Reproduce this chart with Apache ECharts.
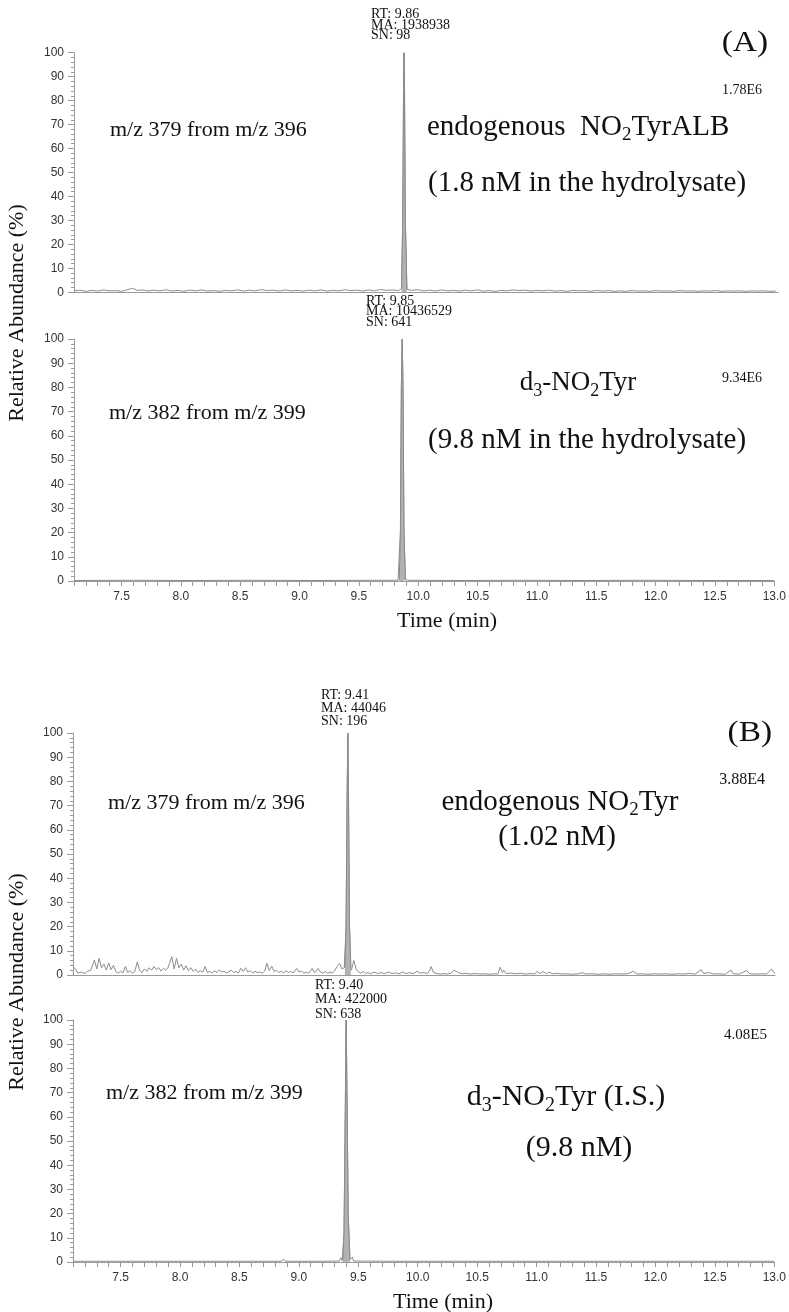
<!DOCTYPE html>
<html>
<head>
<meta charset="utf-8">
<script src="https://cdn.jsdelivr.net/npm/echarts@6.0.0/dist/echarts.min.js"></script>
<style>
html,body{margin:0;padding:0;background:#fff;}
#chart{width:789px;height:1312px;}
</style>
</head>
<body>
<div id="chart"></div>
<script>
// ---------- DATA ----------
const xTickLabels = ['7.5','8.0','8.5','9.0','9.5','10.0','10.5','11.0','11.5','12.0','12.5','13.0'];
const yTickLabels = ['0','10','20','30','40','50','60','70','80','90','100'];

// Panel A, upper trace: m/z 379 from m/z 396 (baseline noise, % relative abundance)
const aTopNoise = [[7.10,0.6],[7.15,0.9],[7.20,0.4],[7.25,0.8],[7.30,0.5],[7.35,1.0],[7.40,0.6],[7.45,0.7],[7.50,0.4],[7.55,1.1],[7.59,1.7],[7.63,0.8],[7.68,1.0],[7.72,0.5],[7.77,0.9],[7.82,0.6],[7.87,1.1],[7.92,0.5],[7.97,0.8],[8.02,0.4],[8.07,0.9],[8.12,0.6],[8.17,1.0],[8.22,0.5],[8.27,0.7],[8.32,0.4],[8.37,0.8],[8.42,0.6],[8.47,1.0],[8.52,0.5],[8.57,0.9],[8.62,0.6],[8.67,1.1],[8.72,0.7],[8.77,0.9],[8.82,0.5],[8.87,1.0],[8.92,0.6],[8.97,0.8],[9.02,0.5],[9.07,0.9],[9.12,0.6],[9.17,1.0],[9.22,0.5],[9.27,0.8],[9.32,0.6],[9.37,1.1],[9.42,0.7],[9.47,0.9],[9.52,0.5],[9.57,1.0],[9.62,0.6],[9.67,1.2],[9.72,0.8],[9.77,1.0],[9.82,0.7],[9.93,0.8],[9.98,1.1],[10.03,0.6],[10.08,0.9],[10.13,0.5],[10.18,1.0],[10.23,0.6],[10.28,0.8],[10.33,0.5],[10.38,0.9],[10.43,0.6],[10.48,1.0],[10.53,0.5],[10.58,0.7],[10.63,0.4],[10.68,0.8],[10.73,0.6],[10.78,1.0],[10.83,0.7],[10.88,0.9],[10.93,0.5],[10.98,0.8],[11.03,0.6],[11.08,0.9],[11.13,0.5],[11.18,0.7],[11.23,0.4],[11.28,0.8],[11.33,0.6],[11.38,0.7],[11.43,0.4],[11.48,0.8],[11.53,0.5],[11.58,0.7],[11.63,0.4],[11.68,0.6],[11.73,0.4],[11.78,0.7],[11.83,0.5],[11.88,0.6],[11.93,0.4],[11.98,0.7],[12.03,0.5],[12.08,0.6],[12.13,0.4],[12.18,0.7],[12.23,0.5],[12.28,0.6],[12.33,0.4],[12.38,0.6],[12.43,0.5],[12.48,0.7],[12.53,0.4],[12.58,0.6],[12.63,0.5],[12.68,0.6],[12.73,0.4],[12.78,0.6],[12.83,0.5],[12.88,0.6],[12.93,0.4],[12.98,0.5]];
const aTopPeak = [[9.845,1.5],[9.855,30],[9.862,85],[9.866,100],[9.870,85],[9.877,30],[9.890,1.2]];

// Panel A, lower trace: m/z 382 from m/z 399
const aBotNoise = [[7.10,0.2],[7.60,0.3],[8.10,0.2],[8.60,0.3],[9.10,0.2],[9.60,0.3],[9.83,0.3],[9.92,0.3],[10.40,0.2],[10.90,0.3],[11.40,0.2],[11.90,0.3],[12.40,0.2],[13.00,0.2]];
const aBotPeak = [[9.840,0.5],[9.850,20],[9.858,80],[9.865,100],[9.872,80],[9.880,20],[9.892,0.5]];

// Panel B, upper trace: m/z 379 from m/z 396
const bTopNoise = [[7.10,3.4],[7.12,2.5],[7.14,0.8],[7.17,1.2],[7.20,0.6],[7.22,1.5],[7.25,2.0],[7.28,6.2],[7.30,2.5],[7.32,6.9],[7.34,3.0],[7.36,4.5],[7.38,2.0],[7.40,5.0],[7.42,2.2],[7.44,4.0],[7.46,1.5],[7.48,0.8],[7.50,1.5],[7.52,0.9],[7.54,3.5],[7.56,1.0],[7.58,1.8],[7.60,0.7],[7.62,1.5],[7.64,5.4],[7.66,1.8],[7.68,1.0],[7.70,2.5],[7.72,1.5],[7.74,3.0],[7.76,2.0],[7.78,3.5],[7.80,2.2],[7.82,3.0],[7.84,1.6],[7.86,2.8],[7.88,2.0],[7.90,3.2],[7.93,7.6],[7.95,2.5],[7.97,6.9],[7.99,3.0],[8.01,4.5],[8.03,2.0],[8.05,3.8],[8.07,1.8],[8.09,3.0],[8.11,1.5],[8.13,2.5],[8.15,1.0],[8.17,1.8],[8.19,1.2],[8.21,3.5],[8.23,1.0],[8.25,1.5],[8.27,0.8],[8.29,1.8],[8.31,1.0],[8.33,2.2],[8.35,1.2],[8.37,1.6],[8.39,0.8],[8.41,1.4],[8.43,2.0],[8.45,1.0],[8.47,1.5],[8.49,0.8],[8.51,2.8],[8.53,1.5],[8.55,3.0],[8.57,1.2],[8.59,1.8],[8.61,0.9],[8.63,1.5],[8.65,1.0],[8.67,1.2],[8.69,0.7],[8.71,1.5],[8.73,4.8],[8.75,1.8],[8.77,3.7],[8.79,1.5],[8.81,2.0],[8.83,1.0],[8.85,1.6],[8.87,0.8],[8.89,1.8],[8.91,1.0],[8.93,1.5],[8.95,0.8],[8.98,2.7],[9.00,1.2],[9.02,1.6],[9.04,0.8],[9.06,1.2],[9.08,0.7],[9.11,2.7],[9.13,1.0],[9.16,2.7],[9.18,1.2],[9.20,0.8],[9.22,1.5],[9.24,0.7],[9.26,1.2],[9.28,0.8],[9.30,1.8],[9.32,3.5],[9.34,4.8],[9.36,2.5],[9.38,3.0],[9.44,2.0],[9.46,6.0],[9.48,2.5],[9.50,1.2],[9.52,0.8],[9.54,1.5],[9.56,0.6],[9.58,1.0],[9.60,0.5],[9.63,1.2],[9.66,0.6],[9.69,1.0],[9.72,0.5],[9.75,1.3],[9.78,0.6],[9.81,0.9],[9.84,0.5],[9.87,1.2],[9.90,0.6],[9.93,1.0],[9.96,0.5],[9.99,1.5],[10.02,0.8],[10.05,1.0],[10.08,0.6],[10.10,2.0],[10.11,3.5],[10.13,1.0],[10.16,0.6],[10.19,0.4],[10.22,0.6],[10.25,0.4],[10.28,0.8],[10.30,2.0],[10.32,1.5],[10.34,1.0],[10.37,0.5],[10.40,0.7],[10.44,0.4],[10.48,0.6],[10.52,0.4],[10.56,0.5],[10.60,0.3],[10.64,0.5],[10.67,0.4],[10.69,3.2],[10.71,1.0],[10.72,2.0],[10.74,0.6],[10.78,0.8],[10.82,0.5],[10.86,0.7],[10.90,0.4],[10.94,0.6],[10.98,0.4],[11.00,1.5],[11.02,0.6],[11.05,1.4],[11.08,0.5],[11.10,1.2],[11.13,0.5],[11.17,0.7],[11.21,0.4],[11.25,0.5],[11.30,0.3],[11.35,0.5],[11.38,1.0],[11.41,0.4],[11.46,0.5],[11.51,0.3],[11.56,0.5],[11.61,0.3],[11.66,0.5],[11.71,0.4],[11.76,0.5],[11.81,1.5],[11.84,0.4],[11.88,0.5],[11.93,0.3],[11.98,0.5],[12.03,0.4],[12.08,0.5],[12.13,0.3],[12.18,0.5],[12.23,0.4],[12.28,0.6],[12.33,0.4],[12.38,2.2],[12.40,0.6],[12.45,1.0],[12.48,0.4],[12.53,0.5],[12.58,0.3],[12.63,2.0],[12.65,0.5],[12.70,0.4],[12.76,1.8],[12.79,0.5],[12.84,0.4],[12.89,0.5],[12.93,0.4],[12.97,2.5],[13.00,0.6]];
const bTopPeak = [[9.385,3.0],[9.395,20],[9.403,70],[9.410,100],[9.416,70],[9.424,20],[9.435,3.0]];

// Panel B, lower trace: m/z 382 from m/z 399
const bBotNoise = [[7.10,0.3],[7.60,0.3],[8.10,0.3],[8.60,0.3],[8.85,0.3],[8.87,1.0],[8.89,0.3],[9.20,0.3],[9.34,0.4],[9.355,1.8],[9.365,0.5],[9.44,0.5],[9.45,2.0],[9.46,0.4],[9.80,0.3],[10.30,0.3],[10.80,0.3],[11.30,0.3],[11.80,0.3],[12.30,0.3],[12.80,0.3],[13.00,0.3]];
const bBotPeak = [[9.370,1.0],[9.380,12],[9.390,60],[9.398,100],[9.405,70],[9.415,20],[9.430,1.0]];

// Annotations
const peakInfo = [
  'RT: 9.86\nMA: 1938938\nSN: 98',
  'RT: 9.85\nMA: 10436529\nSN: 641',
  'RT: 9.41\nMA: 44046\nSN: 196',
  'RT: 9.40\nMA: 422000\nSN: 638'
];
const nlLabels = ['1.78E6','9.34E6','3.88E4','4.08E5'];
const transitionLabels = ['m/z 379 from m/z 396','m/z 382 from m/z 399','m/z 379 from m/z 396','m/z 382 from m/z 399'];
const xTitle = 'Time (min)';
const yTitle = 'Relative Abundance (%)';

// ---------- CHART ----------
const SERIF = '"Liberation Serif","Times New Roman",serif';
const SANS = '"Liberation Sans",Arial,sans-serif';
const AX = '#9a9a9a';

function trace(noise, peak) {
  return noise.concat(peak).sort((a, b) => a[0] - b[0]);
}

const grids = [
  {left: 74, top: 52.7, width: 704, height: 239.6},
  {left: 74, top: 339, width: 704, height: 242},
  {left: 73, top: 733, width: 702, height: 242},
  {left: 73, top: 1020, width: 702, height: 242}
];
const showX = [false, true, false, true];

const xAxes = grids.map((g, i) => ({
  type: 'value', gridIndex: i, min: 7.1, max: 13.0, interval: 0.1,
  axisLine: {show: true, lineStyle: {color: AX, width: 1}},
  axisTick: {show: showX[i], length: 5, lineStyle: {color: AX}},
  axisLabel: {
    show: showX[i], margin: 10, fontFamily: SANS, fontSize: 12, color: '#333',
    formatter: v => {
      const r = Math.round(v * 10);
      if (r % 5 !== 0) return '';
      const s = (r / 10).toFixed(1);
      return xTickLabels.indexOf(s) >= 0 ? s : '';
    }
  },
  splitLine: {show: false}
}));

const yAxes = grids.map((g, i) => ({
  type: 'value', gridIndex: i, min: 0, max: 100, interval: 10,
  axisLine: {show: true, lineStyle: {color: AX, width: 1}},
  axisTick: {show: true, length: 6, lineStyle: {color: AX}},
  minorTick: {show: true, splitNumber: 5, length: 3, lineStyle: {color: AX}},
  axisLabel: {margin: 10, fontFamily: SANS, fontSize: 12, color: '#333',
    formatter: v => yTickLabels[Math.round(v / 10)]},
  splitLine: {show: false}, minorSplitLine: {show: false}
}));

const traces = [[aTopNoise, aTopPeak], [aBotNoise, aBotPeak], [bTopNoise, bTopPeak], [bBotNoise, bBotPeak]];
const series = [];
traces.forEach((t, i) => {
  series.push({
    type: 'line', xAxisIndex: i, yAxisIndex: i, data: trace(t[0], t[1]),
    symbol: 'none', smooth: false, z: 2,
    lineStyle: {color: '#8c8c8c', width: 1}
  });
  series.push({
    type: 'line', xAxisIndex: i, yAxisIndex: i, data: t[1],
    symbol: 'none', z: 3,
    lineStyle: {color: '#8a8a8a', width: 1},
    areaStyle: {color: '#b2b2b2', opacity: 1}
  });
});

function txt(x, y, text, font, size, align, opts) {
  opts = opts || {};
  return {
    type: 'text', x: x, y: y, z: 100, rotation: opts.rotation || 0,
    scaleX: opts.scaleX || 1,
    style: Object.assign({
      text: text, fontFamily: font, fontSize: size, fill: opts.fill || '#111',
      textAlign: align, textVerticalAlign: opts.va || 'middle',
      lineHeight: opts.lineHeight
    }, opts.rich ? {rich: opts.rich} : {})
  };
}

function subRich(size, subSize) {
  return {
    n: {fontFamily: SERIF, fontSize: size, lineHeight: Math.round(size * 1.25), verticalAlign: 'middle', fill: '#111'},
    s: {fontFamily: SERIF, fontSize: subSize, lineHeight: subSize, verticalAlign: 'bottom', fill: '#111'}
  };
}

const graphic = [
  // Panel A
  txt(371, 9.5, peakInfo[0], SERIF, 14, 'left', {va: 'top', lineHeight: 10.5}),
  txt(366, 296, peakInfo[1], SERIF, 14, 'left', {va: 'top', lineHeight: 10.5}),
  txt(110, 130, transitionLabels[0], SERIF, 22, 'left'),
  txt(109, 413, transitionLabels[1], SERIF, 22, 'left'),
  txt(427, 127, '{n|endogenous  NO}{s|2}{n|TyrALB}', SERIF, 29, 'left', {rich: subRich(29, 19)}),
  txt(428, 183, '(1.8 nM in the hydrolysate)', SERIF, 29, 'left'),
  txt(768, 43, '(A)', SERIF, 29, 'right', {scaleX: 1.15}),
  txt(762, 90, nlLabels[0], SERIF, 14, 'right'),
  txt(762, 378, nlLabels[1], SERIF, 14, 'right'),
  txt(578, 383, '{n|d}{s|3}{n|-NO}{s|2}{n|Tyr}', SERIF, 27, 'center', {rich: subRich(27, 18)}),
  txt(428, 440, '(9.8 nM in the hydrolysate)', SERIF, 29, 'left'),
  txt(447, 621, xTitle, SERIF, 22, 'center'),
  txt(17, 313, yTitle, SERIF, 22, 'center', {rotation: Math.PI / 2}),
  // Panel B
  txt(321, 689, peakInfo[2], SERIF, 14, 'left', {va: 'top', lineHeight: 13}),
  txt(315, 978, peakInfo[3], SERIF, 14, 'left', {va: 'top', lineHeight: 14.5}),
  txt(108, 803, transitionLabels[2], SERIF, 22, 'left'),
  txt(106, 1093, transitionLabels[3], SERIF, 22, 'left'),
  txt(560, 802, '{n|endogenous NO}{s|2}{n|Tyr}', SERIF, 29, 'center', {rich: subRich(29, 19)}),
  txt(557, 837, '(1.02 nM)', SERIF, 29, 'center'),
  txt(772, 733, '(B)', SERIF, 29, 'right', {scaleX: 1.15}),
  txt(765, 780, nlLabels[2], SERIF, 16, 'right'),
  txt(767, 1035, nlLabels[3], SERIF, 15, 'right'),
  txt(566, 1097, '{n|d}{s|3}{n|-NO}{s|2}{n|Tyr (I.S.)}', SERIF, 30, 'center', {rich: subRich(30, 20)}),
  txt(579, 1148, '(9.8 nM)', SERIF, 30, 'center'),
  txt(443, 1302, xTitle, SERIF, 22, 'center'),
  txt(17, 982, yTitle, SERIF, 22, 'center', {rotation: Math.PI / 2})
];

const chart = echarts.init(document.getElementById('chart'), null, {renderer: 'canvas'});
chart.setOption({
  animation: false,
  backgroundColor: '#ffffff',
  grid: grids,
  xAxis: xAxes,
  yAxis: yAxes,
  series: series,
  graphic: graphic
});
</script>
</body>
</html>
